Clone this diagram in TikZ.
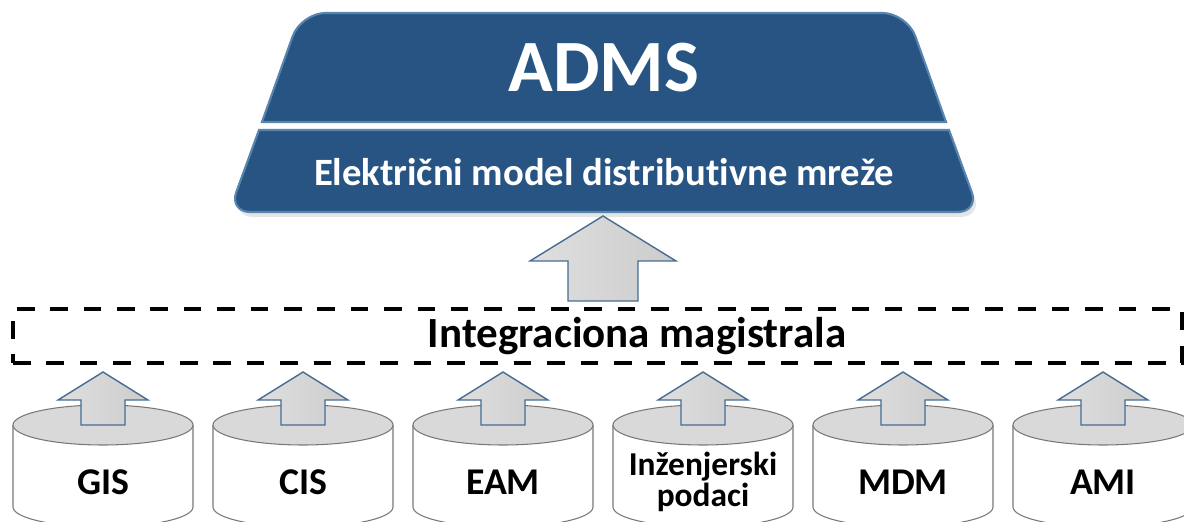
\documentclass[tikz,border=0pt]{standalone}
\usepackage{fontspec}
\setmainfont{Carlito}[Ligatures=NoCommon]
\usetikzlibrary{calc}
\definecolor{admsblue}{RGB}{39,84,130}
\definecolor{admsedge}{RGB}{88,132,176}
\definecolor{arrowedge}{RGB}{70,108,148}
\definecolor{dbtop}{RGB}{217,217,217}
\definecolor{dbline}{RGB}{120,120,120}
\tikzset{
  band/.style={
    fill=admsblue,
    draw=admsedge,
    line width=1.2pt,
  },
  band shadow/.style={
    fill=gray!40,
    draw=none,
    opacity=0.5,
  },
  adms title/.style={
    text=white,
    font=\bfseries\fontsize{42}{42}\selectfont,
  },
  adms sub/.style={
    text=white,
    font=\bfseries\fontsize{22}{22}\selectfont,
  },
  bus box/.style={
    draw=black,
    line width=2.3pt,
    dash pattern=on 10pt off 9pt,
    minimum width=23.38cm,
    minimum height=1.08cm,
  },
  bus text/.style={
    font=\bfseries\fontsize{24.5}{24.5}\selectfont,
  },
  block arrow/.style={
    draw=arrowedge,
    line width=0.8pt,
    left color=gray!25,
    middle color=white,
    right color=gray!40,
  },
  db body/.style={
    fill=white,
    draw=dbline,
    line width=0.6pt,
  },
  db top/.style={
    fill=dbtop,
    draw=dbline,
    line width=0.6pt,
  },
  db label/.style={
    align=center,
    font=\bfseries\fontsize{21.5}{21.5}\selectfont,
  },
  db label small/.style={
    align=center,
    font=\bfseries\fontsize{19}{14.5}\selectfont,
  },
}
% foot, tip, shaft half width, head half width, head length
\newcommand\blockarrow[5]{%
  \draw[block arrow] ($(#1)+(-#3,0)$) -- ($(#2)+(-#3,-#5)$)
    -- ($(#2)+(-#4,-#5)$) -- (#2) -- ($(#2)+(#4,-#5)$)
    -- ($(#2)+(#3,-#5)$) -- ($(#1)+(#3,0)$) -- cycle;
}

\begin{document}
\begin{tikzpicture}[x=0.02cm, y=0.02cm]
  \useasboundingbox (0,0) rectangle (1184,521);

  % ADMS block
  \fill[band shadow] (262,385) [rounded corners=12pt] -- (232,304)
    -- (982,304) [sharp corners] -- (952,385) -- cycle;
  \draw[band] (262,399) [rounded corners=14pt] -- (301,508)
    -- (907,508) [sharp corners] -- (946,399) -- cycle;
  \draw[band] (259,391) [rounded corners=12pt] -- (229,309)
    -- (979,309) [sharp corners] -- (949,391) -- cycle;

  \node[adms title] (adms) at (604,453) {ADMS};
  \node[adms sub] (model) at (604,349) {Električni model distributivne mreže};
  \coordinate (admsfoot) at (603,305);

  % integration bus
  \node[bus box] (bus) at (597.5,185) {};
  \node[bus text] (bustext) at (637,185) {Integraciona magistrala};

  \coordinate (busfoot) at ($(bus.north -| admsfoot)+(0,6)$);
  \blockarrow{busfoot}{admsfoot}{35}{73}{45}

  % data sources
  \foreach \x/\n/\t/\f in {103/gis/GIS/db label,
                           303/cis/CIS/db label,
                           503/eam/EAM/db label,
                           703/inz/{Inženjerski\\podaci}/db label small,
                           903/mdm/MDM/db label,
                           1103/ami/AMI/db label}{
    \draw[db body] (\x-90,96) -- (\x-90,14)
      arc[start angle=180, end angle=360, x radius=90, y radius=20]
      -- (\x+90,96);
    \draw[db top] (\x,96) ellipse[x radius=90, y radius=20];
    \coordinate (\n top) at (\x,96);
    \node[\f] (\n) at (\x,39) {\t};
  }

  \foreach \n in {gis,cis,eam,inz,mdm,ami}{
    \coordinate (\n tip) at ($(bus.south -| \n top)+(0,-7)$);
    \blockarrow{\n top}{\n tip}{22}{45}{28}
  }

\end{tikzpicture}
\end{document}
